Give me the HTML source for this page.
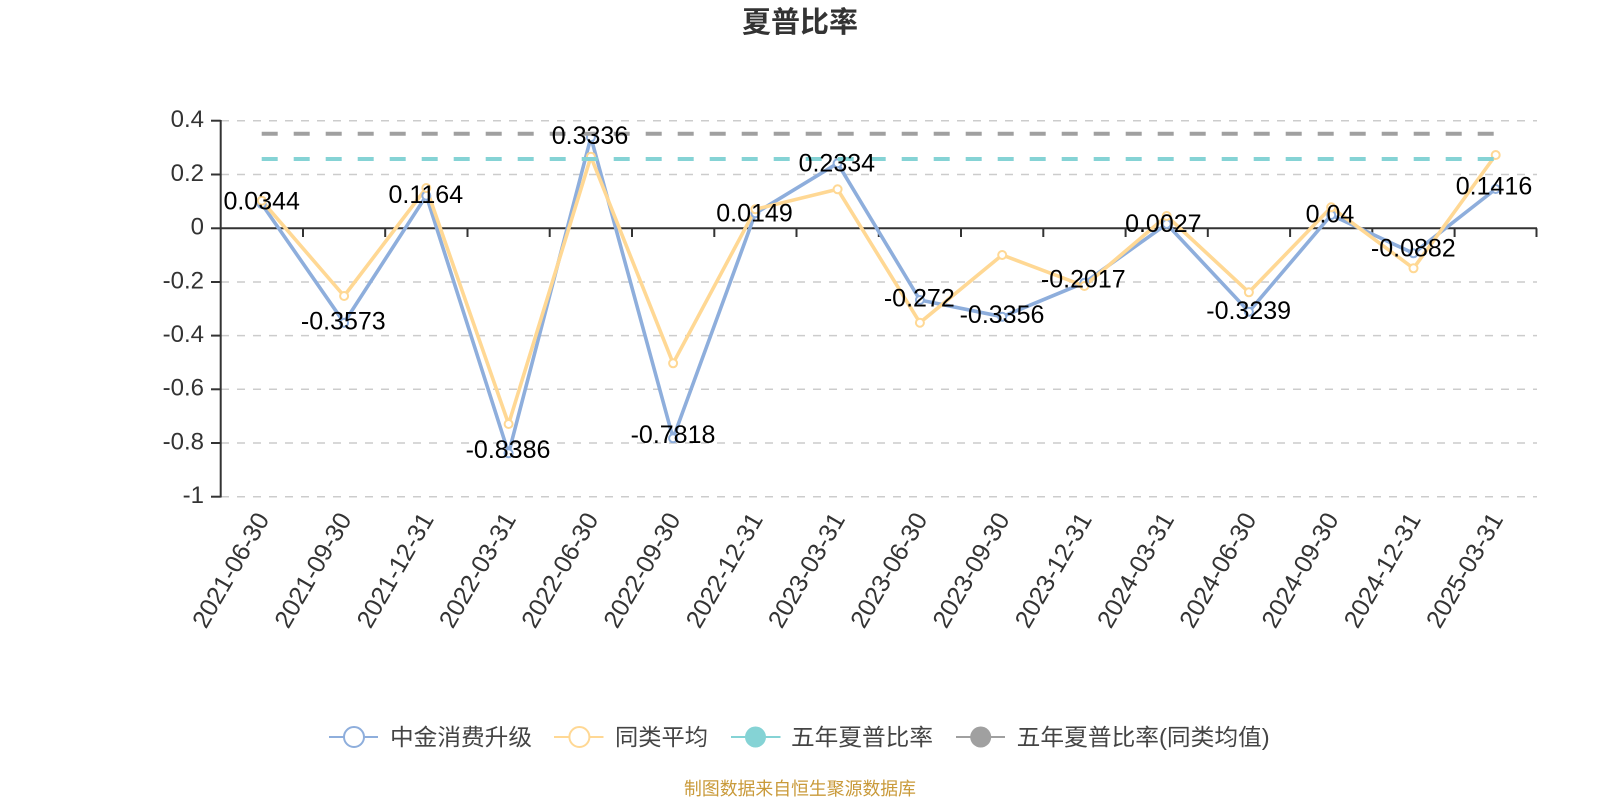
<!DOCTYPE html>
<html><head><meta charset="utf-8"><style>
html,body{margin:0;padding:0;background:#fff;}
svg{display:block;}
text{font-family:"Liberation Sans","Noto Sans CJK SC",sans-serif;}
</style></head><body>
<svg width="1600" height="800" viewBox="0 0 1600 800" xmlns="http://www.w3.org/2000/svg">
<rect width="1600" height="800" fill="#fff"/>
<text x="800" y="23" text-anchor="middle" dominant-baseline="central" font-size="29" font-weight="bold" fill="#333">夏普比率</text>

<!-- grid lines -->
<g stroke="#cccccc" stroke-width="1.5" stroke-dasharray="8 8" fill="none">
<line x1="221" y1="120.7" x2="1537" y2="120.7"/>
<line x1="221" y1="174.5" x2="1537" y2="174.5"/>
<line x1="221" y1="282" x2="1537" y2="282"/>
<line x1="221" y1="335.6" x2="1537" y2="335.6"/>
<line x1="221" y1="389.3" x2="1537" y2="389.3"/>
<line x1="221" y1="443" x2="1537" y2="443"/>
<line x1="221" y1="496.7" x2="1537" y2="496.7"/>
</g>

<!-- y axis -->
<g stroke="#333" stroke-width="2">
<line x1="220.7" y1="120" x2="220.7" y2="497.5"/>
<line x1="211" y1="120.7" x2="220.7" y2="120.7"/>
<line x1="211" y1="174.5" x2="220.7" y2="174.5"/>
<line x1="211" y1="228.3" x2="220.7" y2="228.3"/>
<line x1="211" y1="282" x2="220.7" y2="282"/>
<line x1="211" y1="335.6" x2="220.7" y2="335.6"/>
<line x1="211" y1="389.3" x2="220.7" y2="389.3"/>
<line x1="211" y1="443" x2="220.7" y2="443"/>
<line x1="211" y1="496.7" x2="220.7" y2="496.7"/>
</g>
<g font-size="24" fill="#333" text-anchor="end" dominant-baseline="central">
<text x="204" y="119.5">0.4</text>
<text x="204" y="173.3">0.2</text>
<text x="204" y="227">0</text>
<text x="204" y="280.8">-0.2</text>
<text x="204" y="334.4">-0.4</text>
<text x="204" y="388">-0.6</text>
<text x="204" y="441.8">-0.8</text>
<text x="204" y="495.5">-1</text>
</g>

<!-- x axis at zero -->
<g stroke="#333" stroke-width="2">
<line x1="220.7" y1="228.3" x2="1537" y2="228.3"/>
<line x1="303" y1="228.3" x2="303" y2="237"/>
<line x1="385.2" y1="228.3" x2="385.2" y2="237"/>
<line x1="467.5" y1="228.3" x2="467.5" y2="237"/>
<line x1="549.7" y1="228.3" x2="549.7" y2="237"/>
<line x1="632" y1="228.3" x2="632" y2="237"/>
<line x1="714.3" y1="228.3" x2="714.3" y2="237"/>
<line x1="796.5" y1="228.3" x2="796.5" y2="237"/>
<line x1="878.8" y1="228.3" x2="878.8" y2="237"/>
<line x1="961" y1="228.3" x2="961" y2="237"/>
<line x1="1043.3" y1="228.3" x2="1043.3" y2="237"/>
<line x1="1125.6" y1="228.3" x2="1125.6" y2="237"/>
<line x1="1207.8" y1="228.3" x2="1207.8" y2="237"/>
<line x1="1290.1" y1="228.3" x2="1290.1" y2="237"/>
<line x1="1372.3" y1="228.3" x2="1372.3" y2="237"/>
<line x1="1454.6" y1="228.3" x2="1454.6" y2="237"/>
<line x1="1536.5" y1="228.3" x2="1536.5" y2="237"/>
</g>

<!-- x labels -->
<g font-size="25" fill="#333" text-anchor="end" dominant-baseline="central">
<text x="263" y="515" transform="rotate(-60 263 515)">2021-06-30</text>
<text x="345.3" y="515" transform="rotate(-60 345.3 515)">2021-09-30</text>
<text x="427.5" y="515" transform="rotate(-60 427.5 515)">2021-12-31</text>
<text x="509.8" y="515" transform="rotate(-60 509.8 515)">2022-03-31</text>
<text x="592.1" y="515" transform="rotate(-60 592.1 515)">2022-06-30</text>
<text x="674.3" y="515" transform="rotate(-60 674.3 515)">2022-09-30</text>
<text x="756.6" y="515" transform="rotate(-60 756.6 515)">2022-12-31</text>
<text x="838.8" y="515" transform="rotate(-60 838.8 515)">2023-03-31</text>
<text x="921.1" y="515" transform="rotate(-60 921.1 515)">2023-06-30</text>
<text x="1003.4" y="515" transform="rotate(-60 1003.4 515)">2023-09-30</text>
<text x="1085.6" y="515" transform="rotate(-60 1085.6 515)">2023-12-31</text>
<text x="1167.9" y="515" transform="rotate(-60 1167.9 515)">2024-03-31</text>
<text x="1250.1" y="515" transform="rotate(-60 1250.1 515)">2024-06-30</text>
<text x="1332.4" y="515" transform="rotate(-60 1332.4 515)">2024-09-30</text>
<text x="1414.7" y="515" transform="rotate(-60 1414.7 515)">2024-12-31</text>
<text x="1496.9" y="515" transform="rotate(-60 1496.9 515)">2025-03-31</text>
</g>

<!-- series lines -->
<polyline fill="none" stroke="#8eaedc" stroke-width="3.6" stroke-linejoin="round" points="261.8,204 344.1,322.7 426.3,195.7 508.6,453.3 590.9,137.3 673.1,438.3 755.4,213.3 837.6,163.3 919.9,300 1002.2,316.7 1084.4,282.7 1166.7,224 1248.9,311.7 1331.2,215 1413.5,253.3 1495.7,189"/>
<polyline fill="none" stroke="#ffd894" stroke-width="3.6" stroke-linejoin="round" points="261.8,200.7 344.1,296 426.3,188 508.6,424 590.9,156.7 673.1,363.3 755.4,209.3 837.6,189.3 919.9,322.7 1002.2,255 1084.4,286 1166.7,216 1248.9,292.3 1331.2,207.3 1413.5,268.3 1495.7,155"/>

<!-- symbols -->
<g fill="#fff" stroke="#8eaedc" stroke-width="2">
<circle cx="261.8" cy="204" r="4"/><circle cx="344.1" cy="322.7" r="4"/><circle cx="426.3" cy="195.7" r="4"/><circle cx="508.6" cy="453.3" r="4"/><circle cx="590.9" cy="137.3" r="4"/><circle cx="673.1" cy="438.3" r="4"/><circle cx="755.4" cy="213.3" r="4"/><circle cx="837.6" cy="163.3" r="4"/><circle cx="919.9" cy="300" r="4"/><circle cx="1002.2" cy="316.7" r="4"/><circle cx="1084.4" cy="282.7" r="4"/><circle cx="1166.7" cy="224" r="4"/><circle cx="1248.9" cy="311.7" r="4"/><circle cx="1331.2" cy="215" r="4"/><circle cx="1413.5" cy="253.3" r="4"/><circle cx="1495.7" cy="189" r="4"/>
</g>
<g fill="#fff" stroke="#ffd894" stroke-width="2">
<circle cx="261.8" cy="200.7" r="4"/><circle cx="344.1" cy="296" r="4"/><circle cx="426.3" cy="188" r="4"/><circle cx="508.6" cy="424" r="4"/><circle cx="590.9" cy="156.7" r="4"/><circle cx="673.1" cy="363.3" r="4"/><circle cx="755.4" cy="209.3" r="4"/><circle cx="837.6" cy="189.3" r="4"/><circle cx="919.9" cy="322.7" r="4"/><circle cx="1002.2" cy="255" r="4"/><circle cx="1084.4" cy="286" r="4"/><circle cx="1166.7" cy="216" r="4"/><circle cx="1248.9" cy="292.3" r="4"/><circle cx="1331.2" cy="207.3" r="4"/><circle cx="1413.5" cy="268.3" r="4"/><circle cx="1495.7" cy="155" r="4"/>
</g>

<!-- reference lines -->
<line x1="261.7" y1="133.7" x2="1494.3" y2="133.7" stroke="#a0a0a0" stroke-width="4" stroke-dasharray="16 16"/>
<line x1="261.7" y1="159" x2="1494.3" y2="159" stroke="#85d3d5" stroke-width="4" stroke-dasharray="16 16"/>

<!-- data labels -->
<g font-size="25" fill="#000" text-anchor="middle" dominant-baseline="central">
<text x="261.7" y="201.7">0.0344</text>
<text x="343.3" y="321.7">-0.3573</text>
<text x="425.8" y="195">0.1164</text>
<text x="508" y="450">-0.8386</text>
<text x="590" y="136">0.3336</text>
<text x="673" y="435">-0.7818</text>
<text x="754.5" y="213.3">0.0149</text>
<text x="836.8" y="163.3">0.2334</text>
<text x="919.3" y="298.3">-0.272</text>
<text x="1002" y="315">-0.3356</text>
<text x="1083.3" y="279.3">-0.2017</text>
<text x="1163.3" y="224">0.0027</text>
<text x="1248.7" y="311">-0.3239</text>
<text x="1330" y="214.3">0.04</text>
<text x="1413.3" y="248.3">-0.0882</text>
<text x="1494" y="186.7">0.1416</text>
</g>

<!-- legend -->
<g>
<line x1="329" y1="737" x2="378" y2="737" stroke="#8eaedc" stroke-width="2"/>
<circle cx="354" cy="737" r="10" fill="#fff" stroke="#8eaedc" stroke-width="2"/>
<text x="390" y="737" font-size="23" fill="#444" dominant-baseline="central" textLength="142" lengthAdjust="spacingAndGlyphs">中金消费升级</text>

<line x1="554" y1="737" x2="603.5" y2="737" stroke="#ffd894" stroke-width="2"/>
<circle cx="579.4" cy="737" r="10" fill="#fff" stroke="#ffd894" stroke-width="2"/>
<text x="615" y="737" font-size="23" fill="#444" dominant-baseline="central" textLength="93" lengthAdjust="spacingAndGlyphs">同类平均</text>

<line x1="731" y1="737" x2="780.5" y2="737" stroke="#85d3d5" stroke-width="2"/>
<circle cx="755.5" cy="737" r="10.5" fill="#85d3d5"/>
<text x="791" y="737" font-size="23" fill="#444" dominant-baseline="central" textLength="142" lengthAdjust="spacingAndGlyphs">五年夏普比率</text>

<line x1="956" y1="737" x2="1005" y2="737" stroke="#a0a0a0" stroke-width="2"/>
<circle cx="980.7" cy="737" r="10.5" fill="#a0a0a0"/>
<text x="1016.7" y="737" font-size="23" fill="#444" dominant-baseline="central" textLength="253" lengthAdjust="spacingAndGlyphs">五年夏普比率(同类均值)</text>
</g>

<text x="800" y="789" text-anchor="middle" font-size="18" fill="#c99a3a" dominant-baseline="central" textLength="232" lengthAdjust="spacingAndGlyphs">制图数据来自恒生聚源数据库</text>
</svg>
</body></html>
